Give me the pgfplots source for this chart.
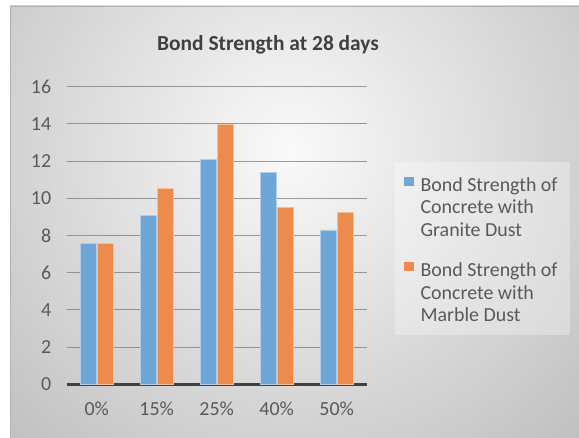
\documentclass[border=0pt]{standalone}
\usepackage{pgfplots}
\pgfplotsset{compat=1.18}
\usepackage{fontspec}
\setmainfont{Carlito}
\definecolor{barblue}{HTML}{6FA6D8}
\definecolor{barorange}{HTML}{EC8B4B}
\definecolor{txt}{HTML}{595959}
\definecolor{ttl}{HTML}{404040}
\begin{document}
\begin{tikzpicture}
\useasboundingbox (0,0) rectangle (579bp,438bp);
\fill[white] (0,0) rectangle (579bp,438bp);
\begin{scope}
\clip (10bp,0) rectangle (579bp,432bp);
\fill[white!74!black] (10bp,0) rectangle (579bp,432bp);
\shade[inner color=white!98!black, outer color=white!74!black] (290bp,288bp) circle (430bp);
\end{scope}
\draw[white!70!black, line width=0.6bp] (10bp,0) -- (10bp,432bp) -- (579bp,432bp);
\fill[white, opacity=0.3] (395bp,103bp) rectangle (570bp,276bp);
\begin{axis}[
  at={(66.7bp,53.7bp)}, anchor=south west,
  scale only axis, width=300bp, height=297.6bp,
  ymin=0, ymax=16, ytick={0,2,...,16},
  xmin=-0.5, xmax=4.5, xtick={0,...,4},
  xticklabels={0\%,15\%,25\%,40\%,50\%},
  ybar=1.4bp, bar width=0.26,
  axis x line*=bottom, axis y line*=left,
  y axis line style={draw=none},
  x axis line style={line width=2.5bp, color=ttl, -},
  major tick length=0pt,
  ymajorgrids=true,
  grid style={black!55, opacity=0.7, line width=1bp},
  /pgf/number format/assume math mode=true,
  ticklabel style={font=\fontsize{20}{23}\selectfont, text=txt},
  yticklabel style={xshift=-12bp},
  xticklabel style={yshift=-14.5bp},
  title={Bond Strength at 28 days},
  title style={font=\bfseries\fontsize{21.5}{25}\selectfont, text=ttl,
    at={(axis description cs:0.671,1.12)}, anchor=center},
  legend style={at={(axis description cs:1.114,0.709)}, anchor=north west,
    draw=none, fill=none, font=\fontsize{20}{22.5}\selectfont, text=txt,
    row sep=66bp},
  legend cell align=left,
]
\addplot[fill=barblue, draw=barblue!55!white, line width=0.75bp,
  legend image code/.code={\path[draw=none] (0bp,0bp) -- (14.5bp,0bp);\fill[barblue, draw=none] (0bp,-1bp) rectangle (9.5bp,8.5bp);}]
  coordinates {(0,7.55) (1,9.07) (2,12.1) (3,11.4) (4,8.3)};
\addlegendentry{\parbox[t]{150bp}{Bond Strength of\\Concrete with\\Granite Dust}}
\addplot[fill=barorange, draw=barorange!55!white, line width=0.75bp,
  legend image code/.code={\path[draw=none] (0bp,0bp) -- (14.5bp,0bp);\fill[barorange, draw=none] (0bp,-1bp) rectangle (9.5bp,8.5bp);}]
  coordinates {(0,7.55) (1,10.55) (2,13.95) (3,9.52) (4,9.25)};
\addlegendentry{\parbox[t]{150bp}{Bond Strength of\\Concrete with\\Marble Dust}}
\end{axis}
\end{tikzpicture}
\end{document}
